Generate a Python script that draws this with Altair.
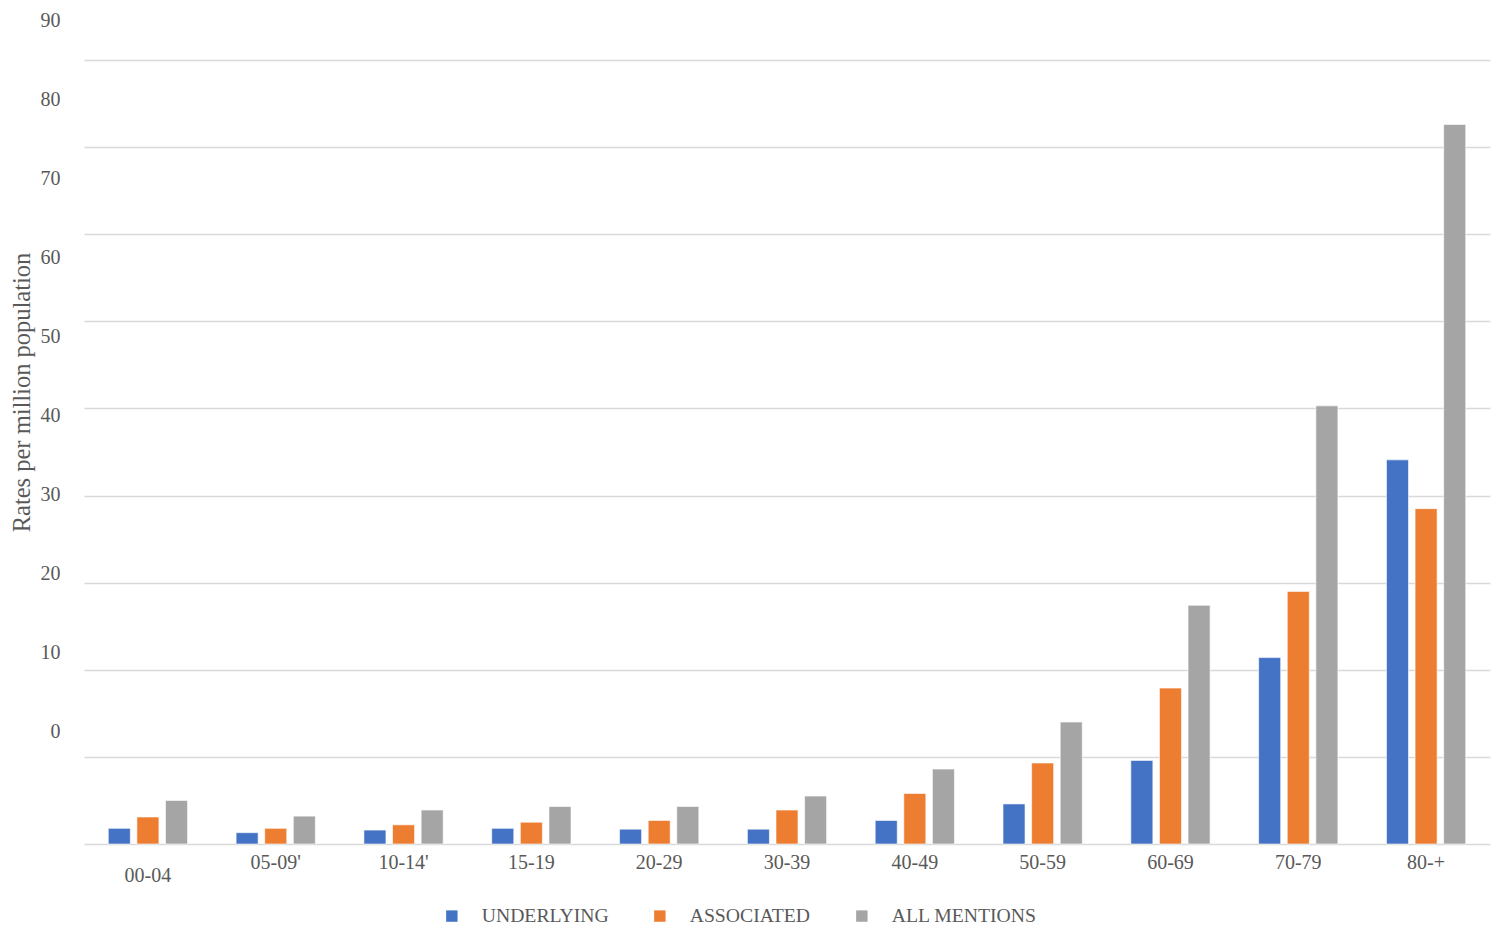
import altair as alt
import pandas as pd

groups = ["00-04", "05-09'", "10-14'", "15-19", "20-29", "30-39", "40-49", "50-59", "60-69", "70-79", "80-+"]
underlying = [1.8, 1.3, 1.6, 1.8, 1.7, 1.7, 2.7, 4.6, 9.6, 21.4, 44.1]
associated = [3.1, 1.8, 2.2, 2.5, 2.7, 3.9, 5.8, 9.3, 17.9, 29.0, 38.5]
all_mentions = [5.0, 3.2, 3.9, 4.3, 4.3, 5.5, 8.6, 14.0, 27.4, 50.3, 82.6]
series_names = ["UNDERLYING", "ASSOCIATED", "ALL MENTIONS"]
series_colors = ["#4472C4", "#ED7D31", "#A5A5A5"]
tick_labels = [0, 10, 20, 30, 40, 50, 60, 70, 80, 90]

rows = []
for name, vals in zip(series_names, [underlying, associated, all_mentions]):
    for g, v in zip(groups, vals):
        rows.append({"group": g, "series": name, "value": v})
df = pd.DataFrame(rows)
ticks_df = pd.DataFrame({"tick": tick_labels})

FONT = "Liberation Serif"
TXT = "#595959"

bars = alt.Chart(df).mark_bar(stroke="white", strokeWidth=0.6).encode(
    x=alt.X("group:N", sort=groups,
            scale=alt.Scale(paddingInner=0.38, paddingOuter=0.19),
            axis=alt.Axis(title=None, labelAngle=0, domain=False, ticks=False, tickSize=0,
                          labelPadding=8, labelFont=FONT, labelFontSize=20, labelColor=TXT,
                          labelBaseline="top", labelLineHeight=13,
                          labelExpr="datum.value == '00-04' ? ['', datum.value] : datum.value")),
    xOffset=alt.XOffset("series:N", sort=series_names,
                        scale=alt.Scale(paddingInner=0.23, paddingOuter=0)),
    y=alt.Y("value:Q", scale=alt.Scale(domain=[0, 94.6], nice=False, zero=True),
            axis=alt.Axis(orient="right", title=None, labels=False, ticks=False, domain=False,
                          values=tick_labels, grid=True, gridColor="#d9d9d9", gridWidth=1.5)),
    color=alt.Color("series:N", sort=series_names,
                    scale=alt.Scale(domain=series_names, range=series_colors),
                    legend=alt.Legend(title=None, orient="none", direction="horizontal",
                                      legendX=358, legendY=886, symbolType="square",
                                      symbolSize=130, symbolStrokeWidth=0, labelOffset=20,
                                      columnPadding=41, labelFont=FONT, labelFontSize=19.7,
                                      labelColor=TXT, padding=0)),
)

label_axis = alt.Chart(ticks_df).mark_point(opacity=0).encode(
    y=alt.Y("tick:Q", scale=alt.Scale(domain=[-14.3, 90], nice=False, zero=False),
            axis=alt.Axis(orient="left", values=tick_labels, grid=False, ticks=False, tickSize=0,
                          domain=False, labelPadding=24, labelFont=FONT, labelFontSize=20,
                          labelColor=TXT, title="Rates per million population",
                          titleFont=FONT, titleFontSize=24.5, titleFontWeight="normal",
                          titleColor=TXT, titleX=-62, titleY=372, titleAngle=-90,
                          titleAlign="center", titleBaseline="middle")),
)

chart = alt.layer(bars, label_axis).resolve_scale(y="independent").properties(
    width=1406, height=824,
    background="white",
    autosize=alt.AutoSizeParams(type="none"),
    padding={"left": 76, "top": 12, "right": 2, "bottom": 86},
).configure_view(strokeWidth=0, stroke="transparent")

chart.save("out.html", embed_options={"renderer": "svg", "actions": False})
